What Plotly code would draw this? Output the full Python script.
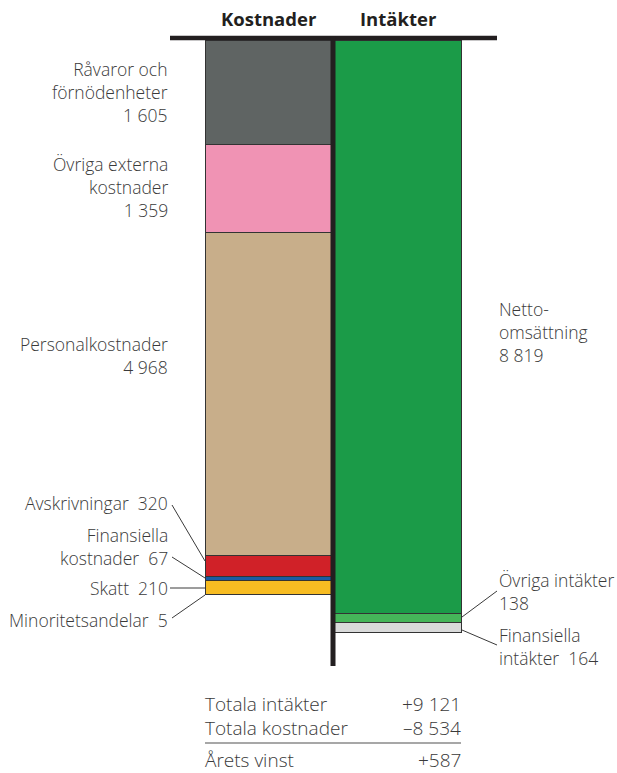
import plotly.graph_objects as go

# ---- data ----
cost_labels = ["Råvaror och förnödenheter", "Övriga externa kostnader", "Personalkostnader",
               "Avskrivningar", "Finansiella kostnader", "Skatt", "Minoritetsandelar"]
cost_values = [1605, 1359, 4968, 320, 67, 210, 5]
cost_colors = ["#5f6463", "#f093b4", "#c8ae8a", "#d02128", "#1a5ca3", "#f7bc22", "#222222"]

income_labels = ["Nettoomsättning", "Övriga intäkter", "Finansiella intäkter"]
income_values = [8819, 138, 164]
income_colors = ["#1b9b48", "#45b659", "#d9dada"]

columns = ["Kostnader", "Intäkter"]
total_income_text = "+9 121"
total_cost_text = "–8 534"
profit_text = "+587"

W, H = 617, 773
L, R, T, B = 170, 120, 40, 108
PW, PH = W - L - R, H - T - B
SCALE = 0.06498  # px per unit
YMAX = PH / SCALE

def px(x):
    return (x - L) / PW

def py(y):
    return (H - B - y) / PH

fig = go.Figure()
for lab, v, c in zip(cost_labels, cost_values, cost_colors):
    fig.add_trace(go.Bar(x=[0], y=[v], name=lab, width=1.0,
                         marker=dict(color=c, line=dict(color="#333333", width=1)),
                         hoverinfo="name+y"))
for lab, v, c in zip(income_labels, income_values, income_colors):
    fig.add_trace(go.Bar(x=[1], y=[v], name=lab, width=1.0,
                         marker=dict(color=c, line=dict(color="#333333", width=1)),
                         hoverinfo="name+y"))

fig.update_layout(
    width=W, height=H, barmode="stack", showlegend=False,
    margin=dict(l=L, r=R, t=T, b=B),
    paper_bgcolor="white", plot_bgcolor="white",
    font=dict(family="Open Sans", color="#3a3a3a", size=17),
    xaxis=dict(range=[-0.7734, 1.78125], visible=False, fixedrange=True),
    yaxis=dict(range=[YMAX, 0], visible=False, fixedrange=True),
)

shapes = []
# top line
shapes.append(dict(type="line", xref="paper", yref="paper", x0=0, x1=1,
                   y0=py(38), y1=py(38), line=dict(color="#231f20", width=4.5)))
# vertical line
shapes.append(dict(type="line", xref="x", yref="paper", x0=0.5, x1=0.5,
                   y0=py(36), y1=py(666), line=dict(color="#231f20", width=5)))
# leader lines
leaders = [
    ((172, 505), (205, 561)),
    ((172, 557), (205, 578)),
    ((170, 588), (205, 588)),
    ((172, 618), (205, 595)),
    ((462, 617), (497, 591)),
    ((462, 630), (497, 645)),
]
for (ax, ay), (bx, by) in leaders:
    shapes.append(dict(type="line", xref="paper", yref="paper",
                       x0=px(ax), y0=py(ay), x1=px(bx), y1=py(by),
                       line=dict(color="#3a3a3a", width=1)))
# table rule
shapes.append(dict(type="line", xref="paper", yref="paper",
                   x0=px(205), x1=px(461), y0=py(743), y1=py(743),
                   line=dict(color="#8a8a8a", width=1.5)))
fig.update_layout(shapes=shapes)

ann = []
def add(text, x, y, xanchor="right", size=17.5, bold=False, color="#3a3a3a"):
    ann.append(dict(text=f"<b>{text}</b>" if bold else text, x=px(x), y=py(y),
                    xref="paper", yref="paper", xanchor=xanchor, yanchor="middle",
                    showarrow=False, align=xanchor if xanchor != "center" else "center",
                    borderpad=0,
                    font=dict(size=size, color=color, family="Open Sans",
                              weight=700 if bold else 300)))

add(columns[0], 269, 18, "center", 18.5, True, "#231f20")
add(columns[1], 398, 18, "center", 18.5, True, "#231f20")

add("Råvaror och<br>förnödenheter<br>1 605", 169, 92)
add("Övriga externa<br>kostnader<br>1 359", 169, 187)
add("Personalkostnader<br>4 968", 169, 355)
add("Avskrivningar  320", 169, 503)
add("Finansiella<br>kostnader  67", 169, 546)
add("Skatt  210", 169, 588)
add("Minoritetsandelar  5", 169, 620)

add("Netto-<br>omsättning<br>8 819", 498, 332, "left")
add("Övriga intäkter<br>138", 498, 591, "left")
add("Finansiella<br>intäkter  164", 498, 646, "left")

add("Totala intäkter", 204, 704, "left", 19)
add(total_income_text, 462, 704, "right", 19)
add("Totala kostnader", 204, 728, "left", 19)
add(total_cost_text, 462, 728, "right", 19)
add("Årets vinst", 204, 760, "left", 19)
add(profit_text, 462, 760, "right", 19)
fig.update_layout(annotations=ann)

fig.write_html("out.html", config={"displayModeBar": False},
               post_script="document.body.style.margin='0';document.body.style.overflow='hidden';")
